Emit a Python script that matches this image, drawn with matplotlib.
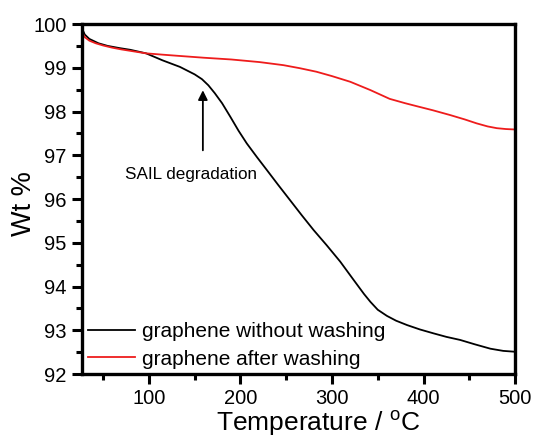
import matplotlib
matplotlib.use("Agg")
import matplotlib.pyplot as plt
from matplotlib.ticker import MultipleLocator

plt.rcParams['font.family'] = ['Liberation Sans', 'DejaVu Sans']
plt.rcParams['mathtext.fontset'] = 'custom'
plt.rcParams['mathtext.rm'] = 'Liberation Sans'

# TGA curves: temperature (°C) vs. remaining weight (%)
temp_unwashed = [27, 30, 35, 45, 55, 68, 80, 97, 115, 134, 150, 158, 165, 172, 180,
                 189, 198, 207, 218, 229, 241, 254, 267, 280, 294, 309, 323, 335,
                 342, 350, 360, 370, 382, 396, 411, 425, 440, 456, 473, 487, 500]
wt_unwashed = [99.90, 99.76, 99.66, 99.56, 99.50, 99.45, 99.41, 99.33, 99.17, 99.02,
               98.85, 98.74, 98.60, 98.42, 98.19, 97.88, 97.56, 97.27, 96.96, 96.66,
               96.33, 95.98, 95.63, 95.29, 94.95, 94.57, 94.17, 93.83, 93.65, 93.47,
               93.33, 93.22, 93.12, 93.02, 92.93, 92.85, 92.78, 92.68, 92.58, 92.53,
               92.51]

temp_washed = [27, 30, 35, 42, 50, 60, 70, 82, 97, 115, 134, 160, 190, 221, 247, 265,
               283, 300, 320, 342, 363, 380, 393, 410, 429, 445, 458, 470, 480, 490, 500]
wt_washed = [99.82, 99.70, 99.62, 99.56, 99.51, 99.46, 99.42, 99.38, 99.33, 99.30,
             99.27, 99.23, 99.19, 99.13, 99.06, 98.99, 98.91, 98.81, 98.68, 98.49,
             98.29, 98.19, 98.12, 98.03, 97.92, 97.82, 97.73, 97.66, 97.62, 97.60, 97.59]

labels = ["graphene without washing", "graphene after washing"]

fig = plt.figure(figsize=(5.36, 4.37), dpi=100)
ax = fig.add_axes([0.153, 0.144, 0.808, 0.801])

ax.plot(temp_unwashed, wt_unwashed, color='black', lw=1.3, label=labels[0])
ax.plot(temp_washed, wt_washed, color='#ee1c1c', lw=1.3, label=labels[1])

ax.set_xlim(27, 500)
ax.set_ylim(92, 100)
ax.xaxis.set_major_locator(MultipleLocator(100))
ax.xaxis.set_minor_locator(MultipleLocator(50))
ax.yaxis.set_major_locator(MultipleLocator(1))
ax.yaxis.set_minor_locator(MultipleLocator(0.5))

for s in ax.spines.values():
    s.set_linewidth(2.4)
ax.tick_params(which='major', direction='out', length=7, width=2.2,
               labelsize=14.5, pad=4, top=False, right=False)
ax.tick_params(which='minor', direction='out', length=4, width=2.2,
               top=False, right=False)

ax.set_xlabel(r'Temperature / $^{\mathrm{o}}$C', fontsize=19)
ax.xaxis.label.set_va('baseline')
ax.xaxis.set_label_coords(0.545, -0.163)
ax.set_ylabel('Wt %', fontsize=19.5)
ax.yaxis.label.set_va('center')
ax.yaxis.set_label_coords(-0.134, 0.487)

# Arrow marking the onset of ionic-liquid decomposition
ax.annotate('', xy=(159, 98.55), xytext=(159, 97.05),
            arrowprops=dict(arrowstyle='-|>', color='black', lw=1.3,
                            mutation_scale=14))
ax.text(146, 96.57, 'SAIL degradation', fontsize=12.3, ha='center', va='center')

leg = ax.legend(loc='lower left', bbox_to_anchor=(-0.016, -0.02), frameon=False,
                fontsize=15, handlelength=2.3, handletextpad=0.3,
                labelspacing=0.4, borderaxespad=0.2)

fig.savefig('out.png', dpi=100, facecolor='white')
